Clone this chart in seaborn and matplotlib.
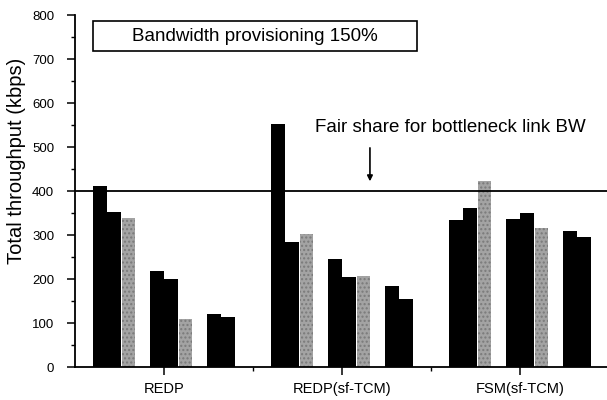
import numpy as np
import pandas as pd
import matplotlib
matplotlib.use("Agg")
import matplotlib.pyplot as plt
from matplotlib.patches import Rectangle
from matplotlib.ticker import MultipleLocator, FixedLocator
import seaborn as sns

# ---- data ----
groups = ["REDP", "REDP(sf-TCM)", "FSM(sf-TCM)"]
series = ["A", "B", "C"]          # A, B black bars; C gray bar
sub_a = [[412, 218, 121], [552, 246, 183], [334, 337, 309]]
sub_b = [[353, 200, 114], [284, 205, 155], [362, 349, 296]]
sub_c = [[339, 110, np.nan], [302, 207, np.nan], [422, 315, np.nan]]
fair_share = 400
y_ticks = [0, 100, 200, 300, 400, 500, 600, 700, 800]

sns.set_theme(style="white")
plt.rcParams["font.family"] = ["Liberation Sans", "DejaVu Sans"]
plt.rcParams["hatch.color"] = "#6f6f6f"

# build long table with computed slot positions
rows = []
slot_w = 0.08
for gi, g in enumerate(groups):
    for si in range(3):
        for ki, (name, arr) in enumerate(zip(series, [sub_a, sub_b, sub_c])):
            v = arr[gi][si]
            if np.isnan(v):
                continue
            slot = si * 4 + ki
            rows.append({"x": gi + 1 + (slot - 4.5) * slot_w, "value": v,
                         "series": "gray" if name == "C" else "black"})
df = pd.DataFrame(rows)

fig = plt.figure(figsize=(6.07, 4.0), dpi=100)
ax = fig.add_axes([75 / 607, 33 / 400, 534 / 607, 352 / 400])

sns.barplot(data=df, x="x", y="value", hue="series", native_scale=True,
            dodge=False, width=0.95, palette={"black": "#000000", "gray": "#a3a3a3"},
            legend=False, ax=ax, linewidth=0, saturation=1)

for p in ax.patches:
    if p.get_facecolor()[0] > 0.3:
        p.set_hatch("....")
        p.set_edgecolor("#7a7a7a")
        p.set_linewidth(0)

ax.axhline(fair_share, color="black", lw=1.3, zorder=3)

ax.set_xlim(0.5, 3.5)
ax.set_ylim(0, 800)
ax.xaxis.set_major_locator(FixedLocator([1, 2, 3]))
ax.set_xticklabels(groups, fontsize=10.5)
ax.xaxis.set_minor_locator(FixedLocator([1.5, 2.5]))
ax.yaxis.set_major_locator(FixedLocator(y_ticks))
ax.set_yticklabels([str(t) for t in y_ticks], fontsize=9.5)
ax.yaxis.set_minor_locator(MultipleLocator(50))

for s in ["top", "right"]:
    ax.spines[s].set_visible(False)
for s in ["left", "bottom"]:
    ax.spines[s].set_color("black")
    ax.spines[s].set_linewidth(1.3)

ax.tick_params(axis="y", which="major", direction="out", length=6, width=1.1,
               color="black", left=True, pad=9)
ax.tick_params(axis="y", which="minor", direction="out", length=3, width=1.0,
               color="black", left=True)
ax.tick_params(axis="x", which="major", direction="out", length=6, width=1.1,
               color="black", bottom=True, pad=5)
ax.tick_params(axis="x", which="minor", direction="out", length=3, width=1.0,
               color="black", bottom=True)
ax.tick_params(colors="black", which="both")

ax.set_xlabel("")
ax.set_ylabel("Total throughput (kbps)", fontsize=14.5, color="black")
ax.yaxis.set_label_coords(-0.092, 0.585)

# annotation box
ax.add_patch(Rectangle((0.601, 718), 2.421 - 0.601, 787 - 718, facecolor="white",
                       edgecolor="black", lw=1.2, zorder=4))
ax.text(1.511, 752, "Bandwidth provisioning 150%", ha="center", va="center",
        fontsize=13.5, color="black", zorder=5)

ax.text(1.848, 545, "Fair share for bottleneck link BW", ha="left", va="center",
        fontsize=13.5, color="black")
ax.annotate("", xy=(2.157, 422), xytext=(2.157, 498),
            arrowprops=dict(arrowstyle="-|>", color="black", lw=1.2,
                            mutation_scale=8, shrinkA=0, shrinkB=0))

fig.savefig("out.png", dpi=100)
